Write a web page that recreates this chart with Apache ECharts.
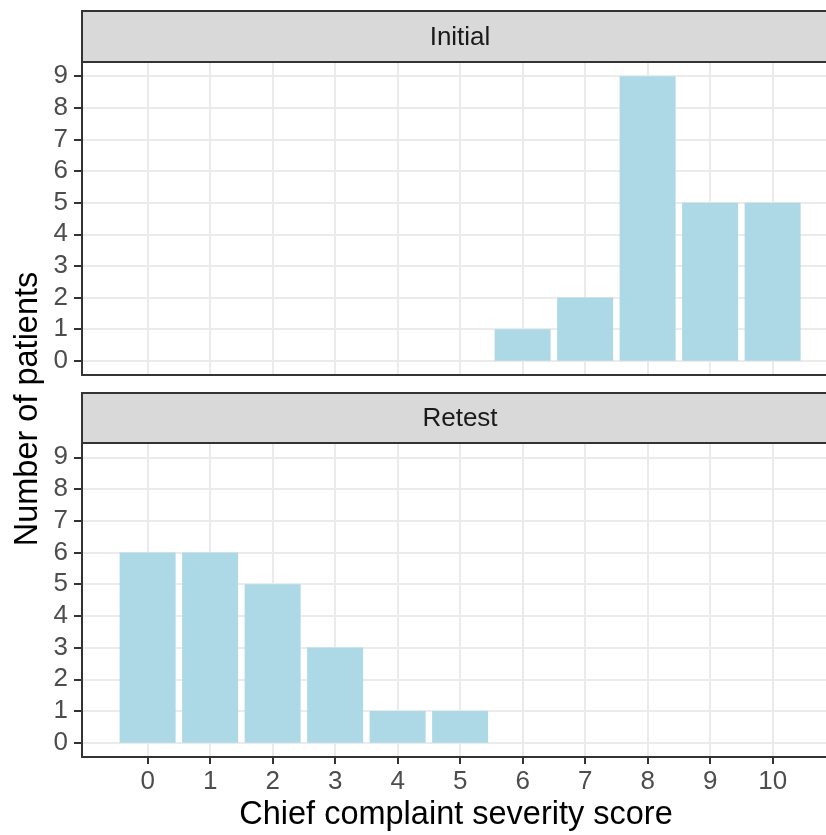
<!DOCTYPE html>
<html>
<head>
<meta charset="utf-8">
<script src="https://cdn.jsdelivr.net/npm/echarts@6/dist/echarts.min.js"></script>
<style>
  html, body { margin: 0; padding: 0; background: #ffffff; }
  #chart { width: 826px; height: 835px; }
</style>
</head>
<body>
<div id="chart"></div>
<script>
// Severity scores on the x axis (0–10)
const scores = [0, 1, 2, 3, 4, 5, 6, 7, 8, 9, 10];
// Number of patients per score, one array per facet
const initialCounts = [0, 0, 0, 0, 0, 0, 1, 2, 9, 5, 5];
const retestCounts  = [6, 6, 5, 3, 1, 1, 0, 0, 0, 0, 0];
const panelNames = ['Initial', 'Retest'];
const yTicks = [0, 1, 2, 3, 4, 5, 6, 7, 8, 9];
const xTitle = 'Chief complaint severity score';
const yTitle = 'Number of patients';

const FONT = '"Liberation Sans", Arial, Helvetica, sans-serif';
const DARK = '#333333';
const GRIDLINE = '#EBEBEB';
const BAR = '#ADD8E6';

// Panels run off the right edge of the canvas, so the visible x range
// ends a little short of the full padded range.
const LEFT = 82, WIDTH = 744;
const X_MIN = -1.05, X_MAX = 10.854;

const panels = [
  { top: 62, height: 313, stripTop: 11, stripH: 51, counts: initialCounts, showX: false },
  { top: 443, height: 314, stripTop: 393, stripH: 50, counts: retestCounts, showX: true }
];

const grids = [], xAxes = [], yAxes = [], series = [], graphics = [];

panels.forEach((p, i) => {
  grids.push({
    left: LEFT, top: p.top, width: WIDTH, height: p.height,
    show: false, containLabel: false
  });
  xAxes.push({
    type: 'value', gridIndex: i, min: X_MIN, max: X_MAX,
    axisLine: { show: true, onZero: false, lineStyle: { color: DARK, width: 2 } },
    axisTick: { show: p.showX, length: 7, lineStyle: { color: DARK, width: 2 }, customValues: scores },
    axisLabel: { show: p.showX, customValues: scores, color: '#4D4D4D', fontSize: 26, fontFamily: FONT, margin: 12 },
    splitLine: { show: true, lineStyle: { color: GRIDLINE, width: 2 } }
  });
  yAxes.push({
    type: 'value', gridIndex: i, min: -0.45, max: 9.45,
    axisLine: { show: true, onZero: false, lineStyle: { color: DARK, width: 2 } },
    axisTick: { show: true, length: 8, lineStyle: { color: DARK, width: 2 }, customValues: yTicks },
    axisLabel: { customValues: yTicks, color: '#4D4D4D', fontSize: 26, fontFamily: FONT, margin: 14 },
    splitLine: { show: true, lineStyle: { color: GRIDLINE, width: 2 } }
  });
  series.push({
    type: 'bar', xAxisIndex: i, yAxisIndex: i,
    barWidth: 56,
    itemStyle: { color: BAR },
    data: scores.map((s, k) => [s, p.counts[k]]).filter(d => d[1] > 0),
    silent: true, animation: false
  });
  // facet strip
  graphics.push({
    type: 'rect', shape: { x: LEFT, y: p.stripTop, width: WIDTH + 20, height: p.stripH },
    style: { fill: '#D9D9D9', stroke: DARK, lineWidth: 2 }, z: 10
  });
  graphics.push({
    type: 'text', x: 460, y: p.stripTop + p.stripH / 2 + 1,
    style: { text: panelNames[i], fill: '#1A1A1A', fontSize: 26, fontFamily: FONT, align: 'center', verticalAlign: 'middle' }, z: 11
  });
});

graphics.push({
  type: 'text', x: 456, y: 815,
  style: { text: xTitle, fill: '#000000', fontSize: 32.5, fontFamily: FONT, align: 'center', verticalAlign: 'middle' }
});
graphics.push({
  type: 'text', x: 28, y: 409, rotation: Math.PI / 2,
  style: { text: yTitle, fill: '#000000', fontSize: 32.5, fontFamily: FONT, align: 'center', verticalAlign: 'middle' }
});

const chart = echarts.init(document.getElementById('chart'), null, { renderer: 'canvas' });
chart.setOption({
  animation: false,
  backgroundColor: '#ffffff',
  grid: grids, xAxis: xAxes, yAxis: yAxes, series: series,
  graphic: graphics
});
</script>
</body>
</html>
